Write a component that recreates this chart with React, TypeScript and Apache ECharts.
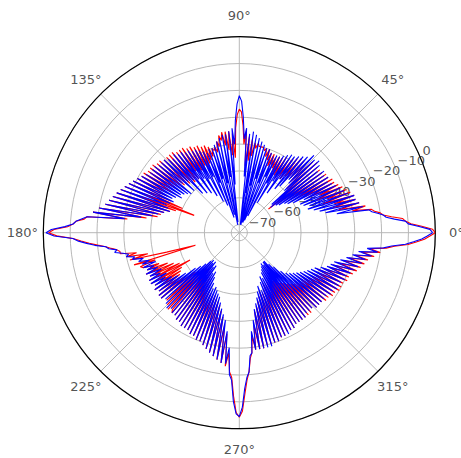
import { useEffect, useRef } from "react";
import * as echarts from "echarts";

// Blue pattern, dB, one value per degree from 0° to 359°
const blueDb = [
  -1, -2, -6, -10, -11, -15, -18, -19, -21, -23,
  -24, -36, -26, -40, -27, -42, -28, -44, -28, -46,
  -30, -45, -31, -47, -32, -48, -33, -46, -34, -50,
  -35, -52, -34, -53, -35, -55, -34, -56, -36, -58,
  -34, -57, -33, -50, -34, -47, -33, -46, -35, -50,
  -36, -52, -37, -48, -38, -55, -38, -50, -39, -60,
  -40, -52, -41, -66, -41, -50, -42, -68, -41, -53,
  -40, -69, -40, -52, -39, -69, -38, -55, -37, -70,
  -36, -58, -35, -70, -36, -52, -34, -38, -30, -24,
  -22, -25, -31, -40, -34, -55, -35, -69, -36, -52,
  -36, -70, -37, -54, -38, -66, -39, -52, -40, -67,
  -40, -53, -41, -62, -40, -50, -39, -60, -38, -50,
  -38, -57, -37, -49, -37, -55, -36, -48, -36, -54,
  -35, -47, -36, -53, -35, -46, -34, -50, -34, -45,
  -34, -50, -33, -49, -33, -48, -33, -47, -32, -48,
  -31, -46, -30, -45, -29, -46, -28, -45, -27, -44,
  -26, -45, -25, -46, -24, -44, -23, -42, -22, -40,
  -20, -36, -18, -30, -16, -14, -12, -11, -8, -3,
  -1, -4, -11, -13, -16, -19, -23, -24, -27, -26,
  -29, -31, -30, -33, -32, -36, -34, -38, -35, -40,
  -35, -39, -36, -40, -35, -41, -36, -40, -35, -42,
  -35, -41, -36, -43, -35, -45, -36, -48, -35, -52,
  -35, -54, -36, -56, -35, -58, -34, -59, -35, -58,
  -34, -59, -34, -57, -33, -58, -33, -55, -32, -56,
  -32, -54, -32, -52, -31, -50, -31, -51, -30, -50,
  -30, -49, -29, -48, -28, -46, -27, -44, -26, -42,
  -25, -40, -24, -36, -24, -30, -20, -18, -10, -5.5,
  -4.5, -8, -15, -19, -21, -27, -28, -36, -29, -40,
  -29, -44, -29, -46, -29, -48, -29, -50, -30, -52,
  -30, -50, -31, -53, -31, -55, -31, -54, -32, -56,
  -32, -57, -33, -58, -33, -59, -33, -58, -33, -59,
  -34, -59, -34, -57, -34, -55, -33, -52, -33, -50,
  -33, -49, -33, -48, -33, -47, -32, -46, -32, -45,
  -31, -44, -31, -43, -31, -42, -30, -40, -30, -38,
  -29, -37, -28, -36, -27, -34, -26, -32, -25, -30,
  -23, -28, -21, -25, -19, -16, -11, -8, -5, -3,
];

// Red pattern, dB, one value per degree from 0° to 359°
const redDb = [
  0, -1, -5, -9, -11, -12, -16, -19, -20, -22,
  -23, -30, -25, -35, -27, -37, -28, -36, -28, -40,
  -29, -38, -30, -42, -31, -40, -32, -44, -33, -46,
  -33, -47, -34, -50, -34, -52, -35, -55, -35, -59,
  -35, -53, -34, -49, -35, -46, -36, -45, -37, -47,
  -37, -46, -38, -48, -39, -47, -40, -49, -40, -48,
  -41, -47, -41, -46, -42, -45, -41, -46, -41, -44,
  -40, -43, -40, -41, -40, -40, -40, -40, -39, -41,
  -39, -44, -38, -46, -37, -48, -35, -40, -33, -28,
  -27, -29, -34, -45, -36, -44, -35, -42, -35, -40,
  -35, -38, -36, -40, -38, -42, -40, -41, -40, -43,
  -39, -44, -38, -45, -38, -46, -37, -45, -37, -47,
  -36, -46, -36, -47, -35, -45, -35, -48, -35, -47,
  -34, -48, -34, -46, -34, -47, -34, -45, -33, -46,
  -33, -45, -32, -44, -32, -45, -32, -43, -31, -44,
  -31, -42, -30, -43, -29, -45, -28, -50, -27, -55,
  -26, -48, -25, -46, -24, -44, -23, -43, -22, -42,
  -20, -38, -18, -31, -16, -15, -12, -11, -9, -4,
  -2, -5, -11, -14, -17, -20, -23, -25, -27, -28,
  -28, -34, -30, -38, -31, -45, -56, -32, -40, -34,
  -35, -41, -36, -44, -35, -46, -36, -48, -35, -52,
  -35, -48, -36, -47, -35, -46, -36, -45, -35, -47,
  -35, -49, -51, -36, -52, -35, -54, -34, -55, -35,
  -34, -53, -34, -55, -33, -52, -33, -53, -32, -51,
  -32, -50, -32, -49, -31, -48, -31, -47, -30, -48,
  -30, -47, -29, -46, -28, -45, -27, -43, -26, -41,
  -25, -38, -24, -35, -23, -28, -21, -19, -12, -6,
  -4.3, -6.5, -13, -18, -21, -26, -28, -34, -29, -38,
  -29, -43, -29, -45, -30, -47, -30, -48, -30, -50,
  -30, -49, -31, -50, -31, -52, -32, -51, -32, -52,
  -32, -51, -33, -52, -33, -51, -33, -50, -33, -49,
  -33, -48, -33, -47, -34, -46, -33, -45, -33, -46,
  -33, -45, -32, -44, -32, -45, -31, -43, -31, -42,
  -30, -42, -30, -40, -30, -41, -29, -39, -29, -37,
  -28, -36, -27, -34, -26, -33, -25, -31, -24, -29,
  -22, -27, -20, -24, -18, -15, -10, -7, -4, -2,
];

const angleTicks = [0, 45, 90, 135, 180, 225, 270, 315];
const angleTickLabels = ["0°", "45°", "90°", "135°", "180°", "225°", "270°", "315°"];
const radiusTicks = [-70, -60, -50, -40, -30, -20, -10, 0];
const radiusLabelAngle = 22.5;
const rMin = -73;
const rMax = 0;

const CX = 239.3;
const CY = 232.7;
const R = 196;
const FONT = "DejaVu Sans";

function toPolarData(vals: number[]) {
  const closed = [...vals, vals[0]];
  return closed.map((v, i) => [Math.max(v, rMin), i]);
}

export default function App() {
  const ref = useRef<HTMLDivElement>(null);
  useEffect(() => {
    document.body.style.margin = "0";
    if (!ref.current) return;
    const chart = echarts.init(ref.current, undefined, { renderer: "svg" });
    const gridColor = "#b0b0b0";
    chart.setOption({
      animation: false,
      backgroundColor: "#ffffff",
      polar: [
        { center: [CX, CY], radius: R },
        { center: [CX, CY], radius: R + 21 },
      ],
      angleAxis: [
        {
          polarIndex: 0,
          type: "value",
          min: 0,
          max: 360,
          interval: 45,
          startAngle: 0,
          clockwise: false,
          axisLine: { show: true, lineStyle: { color: "#000000", width: 1.2 } },
          axisTick: { show: false },
          axisLabel: { show: false },
          splitLine: { show: true, lineStyle: { color: gridColor, width: 0.9 } },
        },
        {
          polarIndex: 1,
          type: "value",
          min: 0,
          max: 360,
          startAngle: 0,
          clockwise: false,
          show: false,
        },
      ],
      radiusAxis: [
        {
          polarIndex: 0,
          type: "value",
          min: rMin,
          max: rMax,
          splitNumber: 7,
          axisLine: { show: false },
          axisTick: { show: false },
          axisLabel: { show: false },
          splitLine: { show: true, lineStyle: { color: gridColor, width: 0.9 } },
        },
        {
          polarIndex: 1,
          type: "value",
          min: 0,
          max: 1,
          show: false,
        },
      ],
      series: [
        {
          type: "scatter",
          coordinateSystem: "polar",
          polarIndex: 0,
          z: 1,
          silent: true,
          symbolSize: 0,
          data: radiusTicks.map((t) => [t, radiusLabelAngle]),
          label: {
            show: true,
            position: [2, -1],
            align: "left",
            verticalAlign: "bottom",
            fontFamily: FONT,
            fontSize: 13,
            color: "#262626",
            formatter: (p: any) => String(p.value[0]).replace("-", "\u2212"),
          },
        },
        {
          type: "scatter",
          coordinateSystem: "polar",
          polarIndex: 1,
          silent: true,
          symbolSize: 0,
          data: angleTicks.map((a) => [1, a]),
          label: {
            show: true,
            position: [0, 0],
            align: "center",
            verticalAlign: "middle",
            fontFamily: FONT,
            fontSize: 13,
            color: "#262626",
            formatter: (p: any) => angleTickLabels[p.dataIndex],
          },
        },
        {
          name: "red",
          type: "line",
          coordinateSystem: "polar",
          polarIndex: 0,
          z: 3,
          showSymbol: false,
          symbol: "none",
          data: toPolarData(redDb),
          lineStyle: { color: "#ff0000", width: 1.1 },
        },
        {
          name: "blue",
          type: "line",
          coordinateSystem: "polar",
          polarIndex: 0,
          z: 4,
          showSymbol: false,
          symbol: "none",
          data: toPolarData(blueDb),
          lineStyle: { color: "#0000ff", width: 1.1 },
        },
      ],
    });
    return () => chart.dispose();
  }, []);
  return <div ref={ref} style={{ width: 461, height: 458 }} />;
}
